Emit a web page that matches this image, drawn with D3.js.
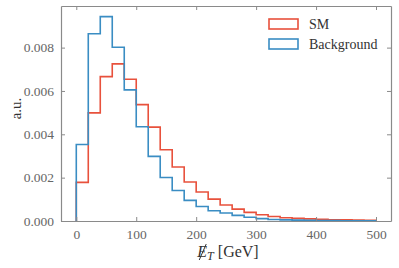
<!DOCTYPE html>
<html>
<head>
<meta charset="utf-8">
<script src="https://cdn.jsdelivr.net/npm/d3@7"></script>
<style>
  body { margin: 0; background: #fff; }
  text { font-family: "Liberation Serif", "DejaVu Serif", serif; }
</style>
</head>
<body>
<div id="chart"></div>
<script>
// bin edges: 0..500 GeV in steps of 20
const binEdges = d3.range(0, 501, 20);
const smValues = [0.00178, 0.00499, 0.00666, 0.00725, 0.00654, 0.00537, 0.00433, 0.00329, 0.00249, 0.0018,
    0.00134, 0.00101, 0.00074, 0.00055, 0.0004, 0.00029, 0.00021, 0.00015, 0.00012, 0.0001,
    0.00008, 0.00006, 0.00005, 0.00004, 0.00003];
const bgValues = [0.00353, 0.00864, 0.00943, 0.00802, 0.00605, 0.00435, 0.00298, 0.00201, 0.00141, 0.00095,
    0.00067, 0.00047, 0.00037, 0.00026, 0.00017, 0.00011, 0.00007, 0.00005, 0.00004, 0.00003,
    0.00002, 0.00002, 0.00001, 0.00001, 0.00001];
const xTicks = [0, 100, 200, 300, 400, 500];
const yTicks = [0, 0.002, 0.004, 0.006, 0.008];
const seriesNames = ["SM", "Background"];
const colors = { sm: "#e8513c", bg: "#3a8dc3", axis: "#8a8a8a", label: "#666" };

const width = 399, height = 268;
const margin = { top: 6, right: 8, bottom: 47, left: 61 };
const innerW = width - margin.left - margin.right;
const innerH = height - margin.top - margin.bottom;

const xScale = d3.scaleLinear().domain([-25.5, 525]).range([0, innerW]);
const yScale = d3.scaleLinear().domain([0, 0.00992]).range([innerH, 0]);

const svg = d3.select("#chart").append("svg")
    .attr("width", width)
    .attr("height", height)
    .append("g")
    .attr("transform", `translate(${margin.left},${margin.top})`);

function stepPoints(values) {
    const pts = [[binEdges[0], 0]];
    values.forEach((v, i) => pts.push([binEdges[i], v]));
    pts.push([binEdges[binEdges.length - 1], values[values.length - 1]]);
    pts.push([binEdges[binEdges.length - 1], 0]);
    return pts;
}

const line = d3.line()
    .x(d => xScale(d[0]))
    .y(d => yScale(d[1]))
    .curve(d3.curveStepAfter);

svg.append("path")
    .attr("d", line(stepPoints(smValues)))
    .attr("fill", "none")
    .attr("stroke", colors.sm)
    .attr("stroke-width", 1.6);

svg.append("path")
    .attr("d", line(stepPoints(bgValues)))
    .attr("fill", "none")
    .attr("stroke", colors.bg)
    .attr("stroke-width", 1.6);

// axes with inward ticks on all four sides
const styleAxis = g => {
    g.select(".domain").attr("stroke", colors.axis).attr("stroke-width", 1.2);
    g.selectAll(".tick line").attr("stroke", colors.axis).attr("stroke-width", 1);
    g.selectAll(".tick text").attr("fill", colors.label)
        .style("font-family", '"Liberation Serif", "DejaVu Serif", serif')
        .style("font-size", "13.5px");
};

svg.append("g")
    .attr("transform", `translate(0,${innerH})`)
    .call(d3.axisBottom(xScale).tickValues(xTicks).tickSize(-4).tickPadding(8).tickSizeOuter(0))
    .call(styleAxis);

svg.append("g")
    .call(d3.axisTop(xScale).tickValues(xTicks).tickSize(-4).tickFormat("").tickSizeOuter(0))
    .call(styleAxis);

svg.append("g")
    .call(d3.axisLeft(yScale).tickValues(yTicks).tickSize(-4).tickPadding(7).tickFormat(d3.format(".3f")).tickSizeOuter(0))
    .call(styleAxis);

svg.append("g")
    .attr("transform", `translate(${innerW},0)`)
    .call(d3.axisRight(yScale).tickValues(yTicks).tickSize(-4).tickFormat("").tickSizeOuter(0))
    .call(styleAxis);

// legend
const legend = svg.append("g").attr("transform", `translate(${269 - margin.left},${13 - margin.top})`);
[colors.sm, colors.bg].forEach((c, i) => {
    legend.append("rect")
        .attr("x", 0).attr("y", 6 + i * 20)
        .attr("width", 29).attr("height", 10)
        .attr("fill", "none")
        .attr("stroke", c)
        .attr("stroke-width", 1.6);
    legend.append("text")
        .attr("x", 40).attr("y", 16 + i * 20)
        .attr("fill", "#333")
        .style("font-size", "14px")
        .text(seriesNames[i]);
});

// y label
svg.append("text")
    .attr("transform", "rotate(-90)")
    .attr("x", -innerH / 2 + 5)
    .attr("y", -margin.left + 21)
    .attr("text-anchor", "middle")
    .attr("fill", "#333")
    .style("font-size", "15px")
    .text("a.u.");

// x label: missing transverse energy, E with a slash through it
const xl = svg.append("text")
    .attr("x", innerW / 2 + 2)
    .attr("y", innerH + 36)
    .attr("text-anchor", "middle")
    .attr("fill", "#333")
    .style("font-size", "16px");
xl.append("tspan").style("font-style", "italic").text("E");
xl.append("tspan").style("font-style", "italic").style("font-size", "12px").attr("dy", 3).text("T");
xl.append("tspan").attr("dy", -3).text(" [GeV]");

const p0 = xl.node().getStartPositionOfChar(0);
const p1 = xl.node().getEndPositionOfChar(0);
const ex = (p0.x + p1.x) / 2;
svg.append("line")
    .attr("x1", ex - 3).attr("y1", p0.y + 3)
    .attr("x2", ex + 4).attr("y2", p0.y - 13)
    .attr("stroke", "#333")
    .attr("stroke-width", 1);
</script>
</body>
</html>
